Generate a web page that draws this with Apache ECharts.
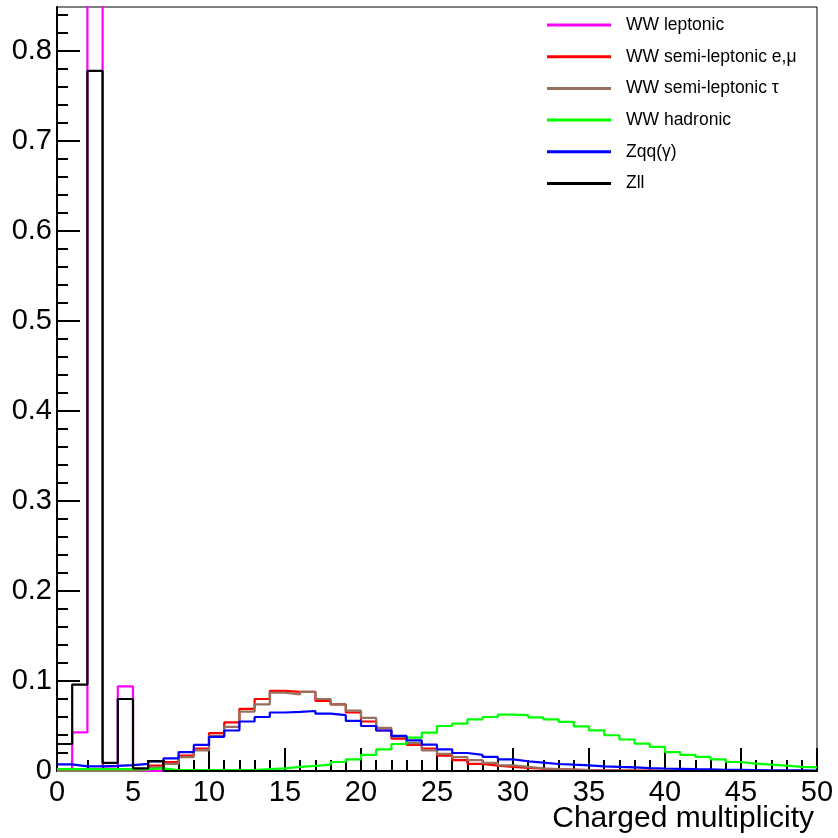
<!DOCTYPE html>
<html>
<head>
<meta charset="utf-8">
<script src="https://cdn.jsdelivr.net/npm/echarts@6/dist/echarts.min.js"></script>
<style>
  html, body { margin: 0; padding: 0; background: #fff; }
  #chart { width: 838px; height: 838px; }
</style>
</head>
<body>
<div id="chart"></div>
<script>
// Charged-track multiplicity per event, normalised histograms, bins of width 1 from 0 to 50
const binEdgeMin = 0;
const binEdgeMax = 50;

const wwLeptonic = [0.002, 0.043, 0.95, 0.005, 0.094, 0, 0, 0, 0, 0,
  0, 0, 0, 0, 0, 0, 0, 0, 0, 0,
  0, 0, 0, 0, 0, 0, 0, 0, 0, 0,
  0, 0, 0, 0, 0, 0, 0, 0, 0, 0,
  0, 0, 0, 0, 0, 0, 0, 0, 0, 0];

const wwSemiLepEMu = [0, 0, 0, 0, 0, 0.002, 0.006, 0.010, 0.017, 0.025,
  0.042, 0.054, 0.069, 0.080, 0.089, 0.088, 0.088, 0.078, 0.074, 0.065,
  0.055, 0.045, 0.036, 0.029, 0.025, 0.017, 0.012, 0.008, 0.006, 0.0045,
  0.0034, 0.0025, 0.002, 0.0015, 0.001, 0.0008, 0.0006, 0.0005, 0.0004, 0.0003,
  0.0003, 0.0002, 0.0002, 0.0001, 0.0001, 0.0001, 0, 0, 0, 0];

const wwSemiLepTau = [0, 0, 0, 0, 0, 0.001, 0.004, 0.008, 0.0155, 0.023,
  0.039, 0.049, 0.066, 0.074, 0.087, 0.085, 0.088, 0.080, 0.074, 0.067,
  0.059, 0.048, 0.038, 0.031, 0.023, 0.019, 0.0155, 0.012, 0.009, 0.0063,
  0.0045, 0.003, 0.0022, 0.0015, 0.001, 0.0008, 0.0006, 0.0004, 0.0003, 0.0003,
  0.0002, 0.0002, 0.0001, 0.0001, 0.0001, 0, 0, 0, 0, 0];

const wwHadronic = [0.002, 0.002, 0.002, 0.002, 0.002, 0.002, 0.003, 0.001, 0.001, 0.001,
  0.001, 0.001, 0.001, 0.002, 0.003, 0.0045, 0.0056, 0.007, 0.010, 0.013,
  0.018, 0.024, 0.030, 0.037, 0.0426, 0.050, 0.0526, 0.0574, 0.060, 0.0626,
  0.062, 0.0597, 0.0574, 0.0545, 0.0497, 0.0452, 0.0397, 0.035, 0.0304, 0.0267,
  0.021, 0.018, 0.0156, 0.013, 0.010, 0.0082, 0.007, 0.006, 0.0045, 0.004];

const zqqGamma = [0.0074, 0.0052, 0.0052, 0.0058, 0.0065, 0.008, 0.0108, 0.014, 0.021, 0.029,
  0.038, 0.045, 0.055, 0.060, 0.065, 0.0656, 0.0667, 0.0637, 0.062, 0.0556,
  0.050, 0.045, 0.039, 0.034, 0.0293, 0.024, 0.020, 0.018, 0.0156, 0.013,
  0.0108, 0.0093, 0.0078, 0.007, 0.0063, 0.0052, 0.0045, 0.004, 0.0033, 0.0028,
  0.0024, 0.002, 0.0017, 0.0014, 0.0012, 0.001, 0.0008, 0.0007, 0.0006, 0.0005];

const zll = [0.030, 0.096, 0.778, 0.009, 0.080, 0.003, 0.011, 0, 0, 0,
  0, 0, 0, 0, 0, 0, 0, 0, 0, 0,
  0, 0, 0, 0, 0, 0, 0, 0, 0, 0,
  0, 0, 0, 0, 0, 0, 0, 0, 0, 0,
  0, 0, 0, 0, 0, 0, 0, 0, 0, 0];

const seriesNames = ['WW leptonic', 'WW semi-leptonic e,\u03bc', 'WW semi-leptonic \u03c4',
  'WW hadronic', 'Zqq(\u03b3)', 'Zll'];
const seriesColors = ['#ff00ff', '#ff0000', '#96705c', '#00ff00', '#0000ff', '#000000'];
const seriesValues = [wwLeptonic, wwSemiLepEMu, wwSemiLepTau, wwHadronic, zqqGamma, zll];

const yMax = 0.849;
const yTickLabels = ['0', '0.1', '0.2', '0.3', '0.4', '0.5', '0.6', '0.7', '0.8'];
const yMinorStep = 0.02;
const xTitle = 'Charged multiplicity';

// major and minor tick positions on the y axis
const yMajor = yTickLabels.map(Number);
const yMinor = [];
for (let k = 0; k * yMinorStep <= yMax + 1e-9; k++) yMinor.push(+(k * yMinorStep).toFixed(3));

// step-histogram points: one per lower bin edge, plus the closing upper edge
function histPoints(vals) {
  const pts = vals.map((v, i) => [binEdgeMin + i, v]);
  pts.push([binEdgeMax, vals[vals.length - 1]]);
  return pts;
}

const FONT = '"Liberation Sans", Arial, Helvetica, sans-serif';

const chart = echarts.init(document.getElementById('chart'), null, { renderer: 'canvas' });

chart.setOption({
  animation: false,
  backgroundColor: '#fff',
  grid: {
    left: 57, right: 21, top: 7, bottom: 67,
    show: true, borderColor: '#000', borderWidth: 1, backgroundColor: 'transparent'
  },
  legend: {
    orient: 'vertical',
    left: 547, top: 15,
    padding: 0,
    itemWidth: 64, itemHeight: 3,
    itemGap: 11.7,
    icon: 'rect',
    data: seriesNames,
    textStyle: { fontFamily: FONT, fontSize: 17.5, color: '#000', lineHeight: 20, padding: [0, 0, 0, 10] }
  },
  xAxis: {
    type: 'value',
    min: binEdgeMin, max: binEdgeMax, interval: 5,
    axisLine: { show: true, lineStyle: { color: '#000', width: 2 } },
    axisTick: { show: true, inside: true, length: 23, lineStyle: { color: '#000', width: 2 } },
    minorTick: { show: true, splitNumber: 5, length: 11, lineStyle: { color: '#000', width: 2 } },
    splitLine: { show: false },
    minorSplitLine: { show: false },
    axisLabel: { fontFamily: FONT, fontSize: 29, color: '#000', margin: 7 }
  },
  yAxis: [
    {
      type: 'value',
      min: 0, max: yMax,
      axisLine: { show: true, lineStyle: { color: '#000', width: 2 } },
      axisTick: { show: true, inside: true, length: 23, customValues: yMajor, lineStyle: { color: '#000', width: 2 } },
      splitLine: { show: false },
      axisLabel: {
        customValues: yMajor,
        fontFamily: FONT, fontSize: 29, color: '#000', margin: 5,
        formatter: v => yTickLabels[yMajor.findIndex(t => Math.abs(t - v) < 1e-9)]
      }
    },
    {
      type: 'value',
      position: 'left',
      min: 0, max: yMax,
      axisLine: { show: false },
      axisTick: { show: true, inside: true, length: 11, customValues: yMinor, lineStyle: { color: '#000', width: 2 } },
      axisLabel: { show: false },
      splitLine: { show: false }
    }
  ],
  series: seriesValues.map((vals, i) => ({
    name: seriesNames[i],
    type: 'line',
    step: 'end',
    yAxisIndex: 0,
    data: histPoints(vals),
    showSymbol: false,
    clip: true,
    color: seriesColors[i],
    lineStyle: { color: seriesColors[i], width: 2.2 },
    z: 2 + i
  })),
  graphic: [{
    type: 'text',
    right: 24, top: 804,
    style: { text: xTitle, font: '30px ' + FONT, fill: '#000' }
  }]
});
</script>
</body>
</html>
